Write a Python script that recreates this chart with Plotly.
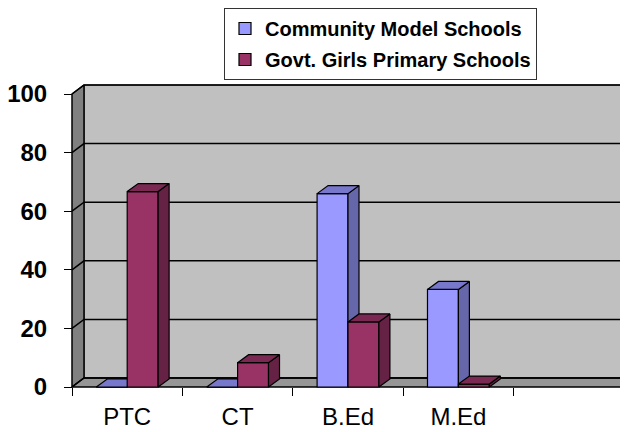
import plotly.graph_objects as go

# ---- data ----
categories = ["PTC", "CT", "B.Ed", "M.Ed"]
community_model = [0, 0, 66, 33.3]
govt_girls_primary = [66.7, 8.3, 22.2, 1]
series_names = ["Community Model Schools", "Govt. Girls Primary Schools"]
y_ticks = [0, 20, 40, 60, 80, 100]

# ---- style / geometry constants ----
# the page body has an 8px default margin, so the figure is laid out 8px smaller
OFF = 8
W, H = 628 - OFF, 432 - OFF
ML, MR, MT, MB = 60 - OFF, 0, 80 - OFF, 36
X0PX, PPX = 72 - OFF, 110.4      # pixel of x=-0.5 boundary, px per category
Y0PX, PPY = 387 - OFF, 2.93      # pixel of value 0, px per value unit
N_SLOTS = 5
BAR_W = 0.28
DXB, DYB = 11 / PPX, 8 / PPY     # bar depth
DXW, DYW = 12 / PPX, 9 / PPY     # wall depth
FONT = "Arial, Liberation Sans, sans-serif"

plot_w = W - ML - MR
plot_h = H - MT - MB
xmin = -0.5 - (X0PX - ML) / PPX
xmax = -0.5 + (W - MR - X0PX) / PPX
ymin = -((H - MB) - Y0PX) / PPY
ymax = (Y0PX - MT) / PPY
XL, XR = -0.5, -0.5 + N_SLOTS
VMAX = y_ticks[-1]

fig = go.Figure()

def poly(xs, ys, fill, z, lw=1.0):
    fig.add_trace(go.Scatter(x=xs, y=ys, mode="lines", fill="toself",
                             fillcolor=fill, line=dict(color="black", width=lw),
                             hoverinfo="skip", showlegend=False, zorder=z))

# walls
poly([XL + DXW, XR + DXW, XR + DXW, XL + DXW, XL + DXW],
     [DYW, DYW, VMAX + DYW, VMAX + DYW, DYW], "#C0C0C0", 0)
poly([XL, XL + DXW, XL + DXW, XL, XL], [0, DYW, VMAX + DYW, VMAX, 0], "#808080", 0, 1.5)
poly([XL, XR, XR + DXW, XL + DXW, XL], [0, 0, DYW, DYW, 0], "#969696", 0, 1.5)

# gridlines on side + back wall
gx, gy = [], []
for v in y_ticks:
    gx += [XL, XL + DXW, XR + DXW, None]
    gy += [v, v + DYW, v + DYW, None]
fig.add_trace(go.Scatter(x=gx, y=gy, mode="lines", line=dict(color="black", width=1.5),
                         hoverinfo="skip", showlegend=False, zorder=1))

def bar_series(vals, name, offset, front, side, top, z):
    xs = list(range(len(vals)))
    fig.add_trace(go.Bar(x=xs, y=vals, name=name, width=BAR_W, offset=offset,
                         marker=dict(color=front, line=dict(color="black", width=1.2)),
                         legendgroup=name, zorder=z))
    sx, sy, tx, ty = [], [], [], []
    for i, v in zip(xs, vals):
        x0 = i + offset
        x1 = x0 + BAR_W
        sx += [x1, x1 + DXB, x1 + DXB, x1, x1, None]
        sy += [0, DYB, v + DYB, v, 0, None]
        tx += [x0, x1, x1 + DXB, x0 + DXB, x0, None]
        ty += [v, v, v + DYB, v + DYB, v, None]
    for px_, py_, c in ((sx, sy, side), (tx, ty, top)):
        fig.add_trace(go.Scatter(x=px_, y=py_, mode="lines", fill="toself", fillcolor=c,
                                 line=dict(color="black", width=1.2), hoverinfo="skip",
                                 showlegend=False, zorder=z + 1))

bar_series(community_model, series_names[0], -BAR_W, "#9999FF", "#6666AA", "#7777CC", 2)
bar_series(govt_girls_primary, series_names[1], 0.0, "#993366", "#662244", "#7A2952", 4)

fig.update_layout(
    width=W, height=H,
    margin=dict(l=ML, r=MR, t=MT, b=MB, autoexpand=False),
    paper_bgcolor="white", plot_bgcolor="white",
    showlegend=True,
    legend=dict(x=(224 - OFF - ML) / plot_w, y=(H - MB) / plot_h, xanchor="left", yanchor="top",
                bgcolor="white", bordercolor="#333333", borderwidth=1,
                font=dict(family=FONT, size=20, color="black", weight="bold"),
                traceorder="grouped", tracegroupgap=2, itemwidth=30),
    xaxis=dict(range=[xmin, xmax], anchor="free", position=((H - MB) - Y0PX) / plot_h,
               tickmode="array", tickvals=list(range(len(categories))), ticktext=categories,
               ticks="", showgrid=False, zeroline=False, showline=False,
               tickfont=dict(family=FONT, size=24, color="black"),
               ticklabelstandoff=13,
               minor=dict(tickmode="array",
                          tickvals=[XL + k for k in range(N_SLOTS + 1)],
                          ticks="outside", ticklen=8, tickwidth=1.2, tickcolor="black",
                          showgrid=False)),
    yaxis=dict(range=[ymin, ymax], anchor="free", position=(X0PX - ML) / plot_w,
               tickmode="array", tickvals=y_ticks, ticks="outside", ticklen=8,
               tickwidth=1.2, tickcolor="black",
               showgrid=False, zeroline=False, showline=False,
               tickfont=dict(family=FONT, size=24, color="black", weight="bold"),
               ticklabelstandoff=12),
)

fig.write_html("out.html")
